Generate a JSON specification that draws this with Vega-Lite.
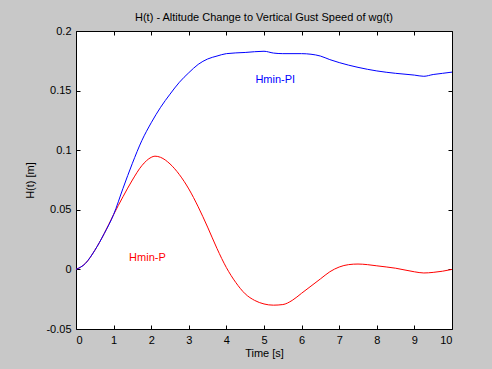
{
  "$schema": "https://vega.github.io/schema/vega-lite/v6.json",
  "width": 376,
  "height": 298,
  "autosize": {"type": "none"},
  "padding": {"left": 76, "top": 31, "right": 40, "bottom": 40},
  "background": "#c8c8c8",
  "config": {
    "font": "Liberation Sans",
    "view": {"fill": "white", "stroke": "black", "strokeWidth": 1},
    "axis": {
      "grid": false,
      "domain": false,
      "tickSize": -4,
      "tickColor": "black",
      "labelColor": "black",
      "labelFontSize": 11,
      "titleFontSize": 11,
      "titleFontWeight": "normal",
      "titleColor": "black"
    }
  },
  "title": {
    "text": "H(t) - Altitude Change to Vertical Gust Speed of wg(t)",
    "fontSize": 11,
    "fontWeight": "normal",
    "color": "black",
    "offset": 2
  },
  "datasets": {
    "curves": [
      {"t": 0, "H": 0, "series": "Hmin-P"},
      {"t": 0.25, "H": 0.005, "series": "Hmin-P"},
      {"t": 0.5, "H": 0.016, "series": "Hmin-P"},
      {"t": 0.75, "H": 0.03, "series": "Hmin-P"},
      {"t": 1.0, "H": 0.046, "series": "Hmin-P"},
      {"t": 1.25, "H": 0.061, "series": "Hmin-P"},
      {"t": 1.5, "H": 0.075, "series": "Hmin-P"},
      {"t": 1.75, "H": 0.087, "series": "Hmin-P"},
      {"t": 2.0, "H": 0.094, "series": "Hmin-P"},
      {"t": 2.1, "H": 0.095, "series": "Hmin-P"},
      {"t": 2.25, "H": 0.094, "series": "Hmin-P"},
      {"t": 2.5, "H": 0.0885, "series": "Hmin-P"},
      {"t": 2.75, "H": 0.0795, "series": "Hmin-P"},
      {"t": 3.0, "H": 0.0675, "series": "Hmin-P"},
      {"t": 3.25, "H": 0.0525, "series": "Hmin-P"},
      {"t": 3.5, "H": 0.0355, "series": "Hmin-P"},
      {"t": 3.75, "H": 0.0175, "series": "Hmin-P"},
      {"t": 4.0, "H": 0.0015, "series": "Hmin-P"},
      {"t": 4.25, "H": -0.011, "series": "Hmin-P"},
      {"t": 4.5, "H": -0.0205, "series": "Hmin-P"},
      {"t": 4.75, "H": -0.026, "series": "Hmin-P"},
      {"t": 5.0, "H": -0.029, "series": "Hmin-P"},
      {"t": 5.25, "H": -0.03, "series": "Hmin-P"},
      {"t": 5.5, "H": -0.0295, "series": "Hmin-P"},
      {"t": 5.75, "H": -0.026, "series": "Hmin-P"},
      {"t": 6.0, "H": -0.02, "series": "Hmin-P"},
      {"t": 6.25, "H": -0.014, "series": "Hmin-P"},
      {"t": 6.5, "H": -0.008, "series": "Hmin-P"},
      {"t": 6.75, "H": -0.002, "series": "Hmin-P"},
      {"t": 7.0, "H": 0.002, "series": "Hmin-P"},
      {"t": 7.25, "H": 0.004, "series": "Hmin-P"},
      {"t": 7.5, "H": 0.0045, "series": "Hmin-P"},
      {"t": 7.75, "H": 0.004, "series": "Hmin-P"},
      {"t": 8.0, "H": 0.003, "series": "Hmin-P"},
      {"t": 8.5, "H": 0.001, "series": "Hmin-P"},
      {"t": 9.0, "H": -0.002, "series": "Hmin-P"},
      {"t": 9.25, "H": -0.003, "series": "Hmin-P"},
      {"t": 9.5, "H": -0.0025, "series": "Hmin-P"},
      {"t": 9.75, "H": -0.0015, "series": "Hmin-P"},
      {"t": 10.0, "H": 0.0, "series": "Hmin-P"},
      {"t": 0, "H": 0, "series": "Hmin-PI"},
      {"t": 0.25, "H": 0.005, "series": "Hmin-PI"},
      {"t": 0.5, "H": 0.016, "series": "Hmin-PI"},
      {"t": 0.75, "H": 0.03, "series": "Hmin-PI"},
      {"t": 1.0, "H": 0.046, "series": "Hmin-PI"},
      {"t": 1.25, "H": 0.068, "series": "Hmin-PI"},
      {"t": 1.5, "H": 0.089, "series": "Hmin-PI"},
      {"t": 1.75, "H": 0.108, "series": "Hmin-PI"},
      {"t": 2.0, "H": 0.123, "series": "Hmin-PI"},
      {"t": 2.25, "H": 0.136, "series": "Hmin-PI"},
      {"t": 2.5, "H": 0.147, "series": "Hmin-PI"},
      {"t": 2.75, "H": 0.157, "series": "Hmin-PI"},
      {"t": 3.0, "H": 0.165, "series": "Hmin-PI"},
      {"t": 3.25, "H": 0.172, "series": "Hmin-PI"},
      {"t": 3.5, "H": 0.1765, "series": "Hmin-PI"},
      {"t": 3.75, "H": 0.179, "series": "Hmin-PI"},
      {"t": 4.0, "H": 0.181, "series": "Hmin-PI"},
      {"t": 4.5, "H": 0.182, "series": "Hmin-PI"},
      {"t": 5.0, "H": 0.183, "series": "Hmin-PI"},
      {"t": 5.25, "H": 0.1815, "series": "Hmin-PI"},
      {"t": 5.5, "H": 0.181, "series": "Hmin-PI"},
      {"t": 6.0, "H": 0.181, "series": "Hmin-PI"},
      {"t": 6.25, "H": 0.1805, "series": "Hmin-PI"},
      {"t": 6.5, "H": 0.179, "series": "Hmin-PI"},
      {"t": 6.75, "H": 0.176, "series": "Hmin-PI"},
      {"t": 7.0, "H": 0.1735, "series": "Hmin-PI"},
      {"t": 7.5, "H": 0.1695, "series": "Hmin-PI"},
      {"t": 8.0, "H": 0.1665, "series": "Hmin-PI"},
      {"t": 8.5, "H": 0.1645, "series": "Hmin-PI"},
      {"t": 9.0, "H": 0.163, "series": "Hmin-PI"},
      {"t": 9.25, "H": 0.162, "series": "Hmin-PI"},
      {"t": 9.5, "H": 0.1635, "series": "Hmin-PI"},
      {"t": 9.75, "H": 0.1645, "series": "Hmin-PI"},
      {"t": 10.0, "H": 0.1655, "series": "Hmin-PI"}
    ],
    "labels": [
      {"t": 5.3, "H": 0.159, "series": "Hmin-PI"},
      {"t": 1.9, "H": 0.0096, "series": "Hmin-P"}
    ]
  },
  "layer": [
    {
      "data": {"name": "curves"},
      "mark": {"type": "line", "strokeWidth": 1, "interpolate": "monotone", "clip": true},
      "encoding": {
        "x": {
          "field": "t", "type": "quantitative",
          "scale": {"domain": [0, 10], "nice": false, "zero": false},
          "axis": {"orient": "bottom", "title": "Time [s]", "values": [0,1,2,3,4,5,6,7,8,9,10], "labelPadding": 9, "titlePadding": 2}
        },
        "y": {
          "field": "H", "type": "quantitative",
          "scale": {"domain": [-0.05, 0.2], "nice": false, "zero": false},
          "axis": {"orient": "left", "title": "H(t) [m]", "values": [-0.05, 0, 0.05, 0.1, 0.15, 0.2], "labelExpr": "'' + datum.value", "labelPadding": 9, "titlePadding": 10}
        },
        "color": {
          "field": "series", "type": "nominal",
          "scale": {"domain": ["Hmin-P", "Hmin-PI"], "range": ["#ff0000", "#0000ff"]},
          "legend": null
        },
        "detail": {"field": "series"}
      }
    },
    {
      "data": {"name": "labels"},
      "mark": {"type": "text", "fontSize": 11, "align": "center", "baseline": "middle"},
      "encoding": {
        "x": {
          "field": "t", "type": "quantitative",
          "scale": {"domain": [0, 10], "nice": false, "zero": false},
          "axis": {"orient": "top", "title": null, "labels": false, "values": [0,1,2,3,4,5,6,7,8,9,10]}
        },
        "y": {
          "field": "H", "type": "quantitative",
          "scale": {"domain": [-0.05, 0.2], "nice": false, "zero": false},
          "axis": {"orient": "right", "title": null, "labels": false, "values": [-0.05, 0, 0.05, 0.1, 0.15, 0.2]}
        },
        "text": {"field": "series"},
        "color": {
          "field": "series", "type": "nominal",
          "scale": {"domain": ["Hmin-P", "Hmin-PI"], "range": ["#ff0000", "#0000ff"]},
          "legend": null
        }
      }
    }
  ],
  "resolve": {"axis": {"x": "independent", "y": "independent"}}
}
